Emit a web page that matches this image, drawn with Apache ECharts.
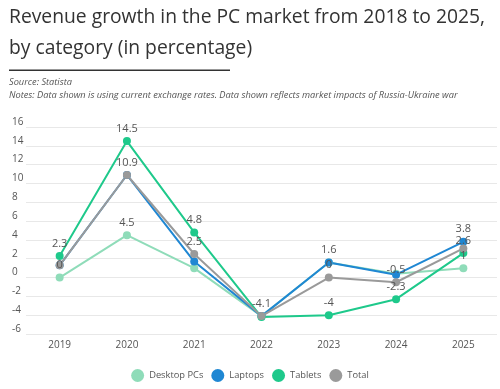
<!DOCTYPE html>
<html>
<head>
<meta charset="utf-8">
<script src="https://cdn.jsdelivr.net/npm/echarts@6/dist/echarts.min.js"></script>
<style>
html,body{margin:0;padding:0;background:#fff;}
#chart{width:500px;height:389px;}
</style>
</head>
<body>
<div id="chart"></div>
<script>
const categories = ['2019', '2020', '2021', '2022', '2023', '2024', '2025'];
const desktopPCs = [0, 4.5, 1.0, -4.1, 1.6, 0.4, 1.0];
const laptops = [1.3, 10.9, 1.7, -4.1, 1.6, 0.3, 3.8];
const tablets = [2.3, 14.5, 4.8, -4.2, -4.0, -2.3, 2.6];
const total = [1.3, 10.9, 2.5, -4.1, 0, -0.5, 3.1];
const yTicks = { min: -6, max: 16, interval: 2 };

const FONT = '"Open Sans", "Noto Sans", sans-serif';
const colors = ['#8fdcb9', '#1f87d3', '#1ec98b', '#9a9a9a'];
// which point labels are hidden because they overlap in the original
const hiddenLabelIdx = {
  'Desktop PCs': [2, 3, 4, 5],
  'Laptops': [0, 1, 2, 3, 5],
  'Tablets': [3],
  'Total': [0, 6]
};

function mkSeries(name, values, color) {
  const hid = hiddenLabelIdx[name] || [];
  return {
    name: name,
    type: 'line',
    data: values.map((v, i) => hid.indexOf(i) >= 0 ? { value: v, label: { show: false } } : v),
    symbol: 'circle',
    symbolSize: 8,
    lineStyle: { width: 2, color: color },
    itemStyle: { color: color },
    label: {
      show: true,
      position: 'top',
      distance: 3,
      color: '#555',
      fontSize: 11,
      fontFamily: FONT
    },
    emphasis: { disabled: true }
  };
}

const chart = echarts.init(document.getElementById('chart'), null, { renderer: 'canvas' });
chart.setOption({
  animation: false,
  color: colors,
  title: [
    {
      text: 'Revenue growth in the PC market from 2018 to 2025,\nby category (in percentage)',
      left: 9,
      top: 2,
      padding: 0,
      textStyle: { fontFamily: FONT, fontSize: 19.3, fontWeight: 'normal', color: '#333', lineHeight: 31 }
    },
    {
      text: 'Source: Statista\nNotes: Data shown is using current exchange rates. Data shown reflects market impacts of Russia-Ukraine war',
      left: 9,
      top: 76,
      padding: 0,
      textStyle: { fontFamily: FONT, fontSize: 9.25, fontStyle: 'italic', fontWeight: 'normal', color: '#555', lineHeight: 13 }
    }
  ],
  graphic: [
    { type: 'rect', shape: { x: 9, y: 69.5, width: 221, height: 1.5 }, style: { fill: '#333' } }
  ],
  legend: {
    bottom: 2,
    left: 'center',
    icon: 'circle',
    itemWidth: 13,
    itemHeight: 13,
    itemGap: 8,
    textStyle: { fontFamily: FONT, fontSize: 9.3, color: '#555' },
    data: ['Desktop PCs', 'Laptops', 'Tablets', 'Total']
  },
  grid: { left: 26, right: 3, top: 127, bottom: 55, containLabel: false },
  xAxis: {
    type: 'category',
    data: categories,
    boundaryGap: true,
    axisLine: { show: false },
    axisTick: { show: false },
    axisLabel: { color: '#555', fontSize: 10, fontFamily: FONT, margin: 6 }
  },
  yAxis: {
    type: 'value',
    min: yTicks.min,
    max: yTicks.max,
    interval: yTicks.interval,
    axisLine: { show: false },
    axisTick: { show: false },
    splitLine: { lineStyle: { color: '#e8e8e8', width: 1 } },
    axisLabel: { color: '#555', fontSize: 10, fontFamily: FONT, align: 'left', margin: 14, verticalAlign: 'bottom' }
  },
  series: [
    mkSeries('Desktop PCs', desktopPCs, colors[0]),
    mkSeries('Laptops', laptops, colors[1]),
    mkSeries('Tablets', tablets, colors[2]),
    mkSeries('Total', total, colors[3])
  ]
});
</script>
</body>
</html>
